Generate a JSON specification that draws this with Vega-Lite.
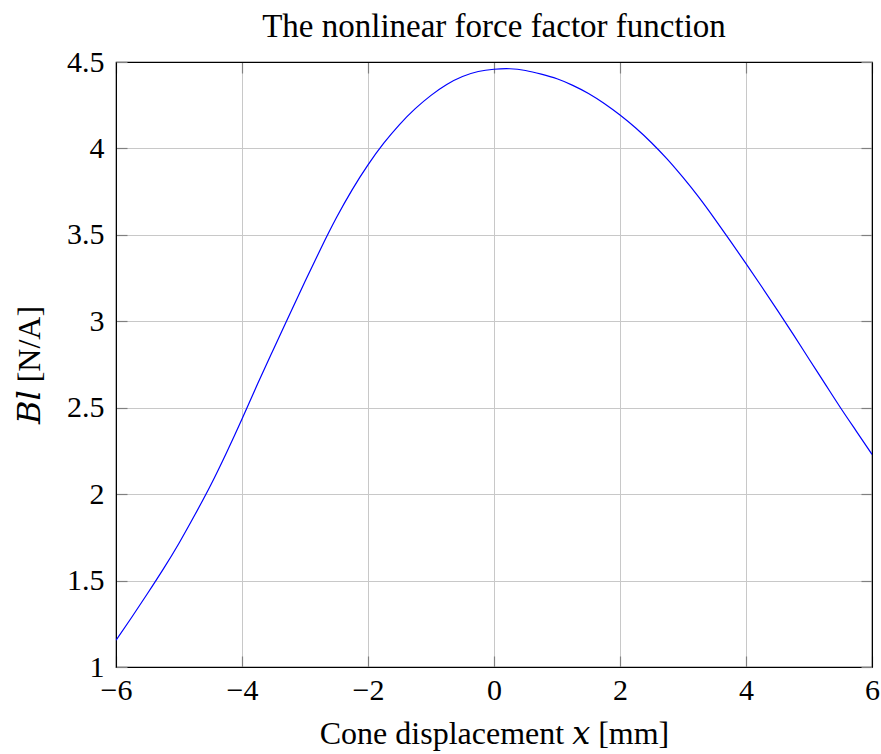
{
  "$schema": "https://vega.github.io/schema/vega-lite/v6.json",
  "width": 756,
  "height": 605,
  "autosize": {"type": "none"},
  "padding": {"left": 116, "top": 62, "right": 9, "bottom": 87},
  "background": "white",
  "title": {
    "text": "The nonlinear force factor function",
    "font": "Liberation Serif",
    "fontSize": 33,
    "fontWeight": "normal",
    "color": "black",
    "anchor": "middle",
    "offset": 3
  },
  "config": {
    "view": {"stroke": "black", "strokeWidth": 1.2},
    "axis": {
      "labelFont": "Liberation Serif",
      "labelFontSize": 30,
      "labelColor": "black",
      "titleFont": "Liberation Serif, DejaVu Serif, serif",
      "titleFontSize": 32,
      "titleFontWeight": "normal",
      "titleColor": "black",
      "gridColor": "#c8c8c8",
      "gridWidth": 1,
      "domainColor": "black",
      "tickColor": "#808080",
      "tickWidth": 1.2
    }
  },
  "data": {
    "values": [
      {"x": -6.0, "bl": 1.155},
      {"x": -5.75, "bl": 1.288},
      {"x": -5.5, "bl": 1.425},
      {"x": -5.25, "bl": 1.566},
      {"x": -5.0, "bl": 1.716},
      {"x": -4.75, "bl": 1.879},
      {"x": -4.5, "bl": 2.05},
      {"x": -4.25, "bl": 2.237},
      {"x": -4.0, "bl": 2.435},
      {"x": -3.75, "bl": 2.64},
      {"x": -3.5, "bl": 2.838},
      {"x": -3.25, "bl": 3.035},
      {"x": -3.0, "bl": 3.23},
      {"x": -2.75, "bl": 3.42},
      {"x": -2.5, "bl": 3.6},
      {"x": -2.25, "bl": 3.762},
      {"x": -2.0, "bl": 3.905},
      {"x": -1.75, "bl": 4.03},
      {"x": -1.5, "bl": 4.138},
      {"x": -1.25, "bl": 4.23},
      {"x": -1.0, "bl": 4.307},
      {"x": -0.75, "bl": 4.37},
      {"x": -0.5, "bl": 4.416},
      {"x": -0.25, "bl": 4.445},
      {"x": 0.0, "bl": 4.458},
      {"x": 0.25, "bl": 4.461},
      {"x": 0.5, "bl": 4.451},
      {"x": 0.75, "bl": 4.43},
      {"x": 1.0, "bl": 4.403},
      {"x": 1.25, "bl": 4.365},
      {"x": 1.5, "bl": 4.318},
      {"x": 1.75, "bl": 4.26},
      {"x": 2.0, "bl": 4.193},
      {"x": 2.25, "bl": 4.118},
      {"x": 2.5, "bl": 4.033},
      {"x": 2.75, "bl": 3.938},
      {"x": 3.0, "bl": 3.832},
      {"x": 3.25, "bl": 3.718},
      {"x": 3.5, "bl": 3.594},
      {"x": 3.75, "bl": 3.465},
      {"x": 4.0, "bl": 3.334},
      {"x": 4.25, "bl": 3.2},
      {"x": 4.5, "bl": 3.063},
      {"x": 4.75, "bl": 2.924},
      {"x": 5.0, "bl": 2.782},
      {"x": 5.25, "bl": 2.641},
      {"x": 5.5, "bl": 2.5},
      {"x": 5.75, "bl": 2.365},
      {"x": 6.0, "bl": 2.23}
    ]
  },
  "layer": [
    {
      "mark": {"type": "line", "color": "#0000ff", "strokeWidth": 1.2, "interpolate": "natural", "clip": true},
      "encoding": {
        "x": {
          "field": "x", "type": "quantitative",
          "scale": {"domain": [-6, 6], "nice": false, "zero": false},
          "axis": {
            "orient": "bottom",
            "values": [-6, -4, -2, 0, 2, 4, 6],
            "title": "Cone displacement 𝑥 [mm]",
            "tickSize": -11,
            "labelPadding": 19,
            "titlePadding": 13,
            "labelFlush": false
          }
        },
        "y": {
          "field": "bl", "type": "quantitative",
          "scale": {"domain": [1, 4.5], "nice": false, "zero": false},
          "axis": {
            "orient": "left",
            "values": [1, 1.5, 2, 2.5, 3, 3.5, 4, 4.5],
            "format": "~g",
            "title": "𝐵𝑙 [N/A]",
            "tickSize": -11,
            "labelPadding": 23,
            "titlePadding": 20,
            "labelFlush": false
          }
        }
      }
    },
    {
      "mark": {"type": "line", "opacity": 0},
      "encoding": {
        "x": {
          "field": "x", "type": "quantitative",
          "axis": {
            "orient": "top",
            "values": [-6, -4, -2, 0, 2, 4, 6],
            "labels": false, "title": null, "grid": false,
            "tickSize": -11
          }
        },
        "y": {
          "field": "bl", "type": "quantitative",
          "axis": {
            "orient": "right",
            "values": [1, 1.5, 2, 2.5, 3, 3.5, 4, 4.5],
            "labels": false, "title": null, "grid": false,
            "tickSize": -11
          }
        }
      }
    }
  ],
  "resolve": {"axis": {"x": "independent", "y": "independent"}}
}
